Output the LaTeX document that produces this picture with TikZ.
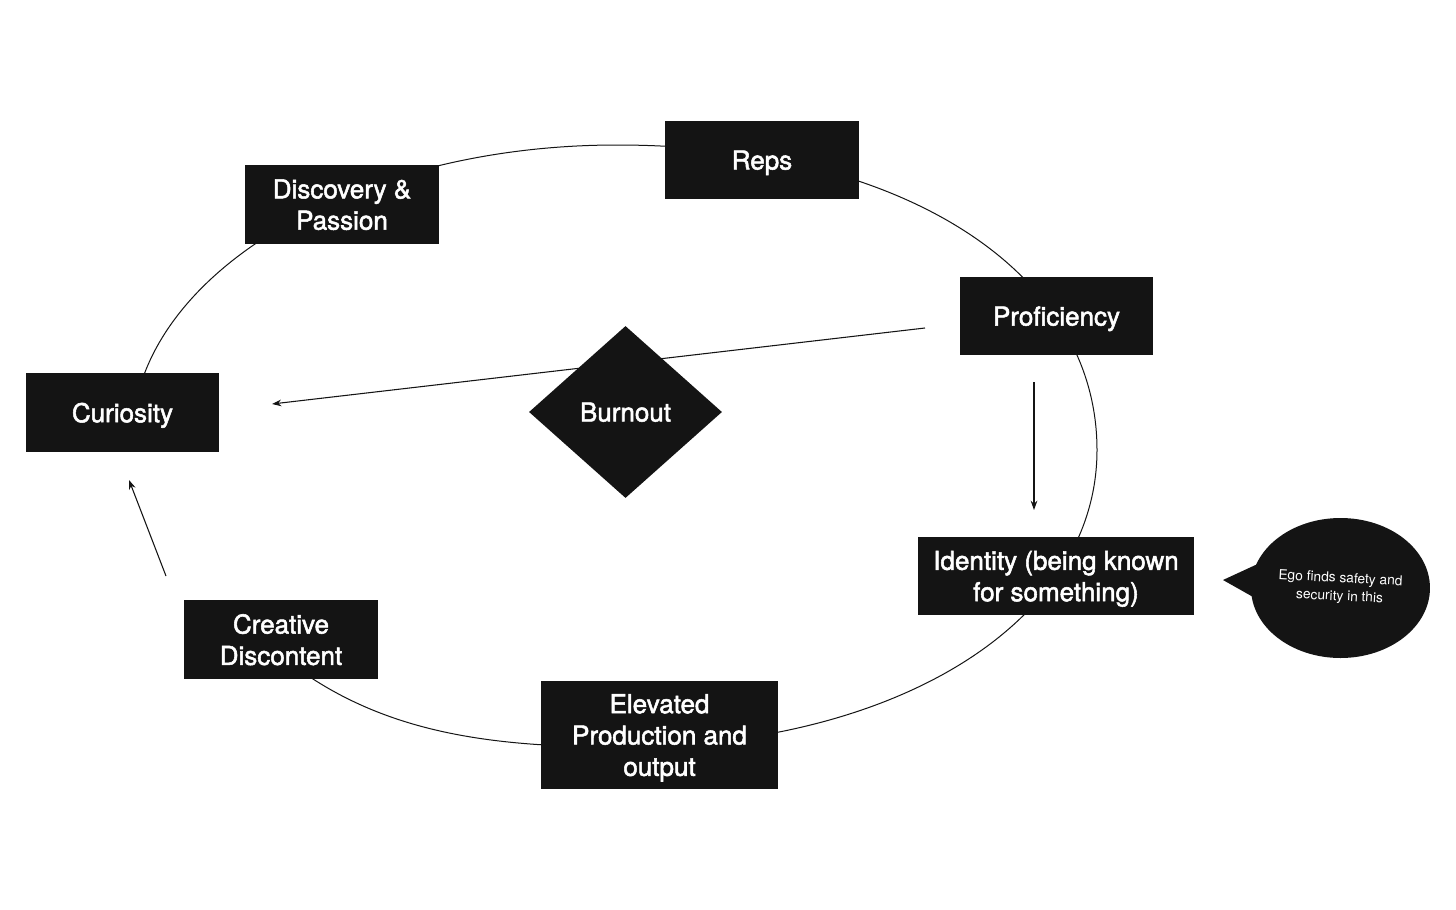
\documentclass[tikz,border=0pt]{standalone}
\usepackage{fontspec}
\setmainfont{TeX Gyre Heros}
\newfontfamily\medfont{TeX Gyre Heros}[FakeBold=2]
\usetikzlibrary{shapes.geometric,arrows.meta}
\definecolor{boxfill}{RGB}{20,20,20}
\tikzset{
  stepbox/.style={rectangle, fill=boxfill, text=white, align=center, inner sep=0pt,
    text depth=0pt, font=\medfont\fontsize{19.5}{23.5}\selectfont},
  arr/.style={-{Stealth[length=7pt,width=5pt]}, line width=0.8pt, draw=boxfill},
  loopline/.style={line width=0.75pt, draw=boxfill}
}
\begin{document}
\begin{tikzpicture}[x=0.75pt,y=-0.75pt]
\useasboundingbox (0,0) rectangle (1456,910);
\fill[white] (0,0) rectangle (1456,910);
% cycle curve
\coordinate (c0) at (132,440);
\coordinate (ctop) at (617,145);
\coordinate (cright) at (1097,450);
\coordinate (cbot) at (620,747);
\coordinate (c5) at (313,679);
\coordinate (c6) at (290,664);
\draw[loopline] (c0) .. controls (132,278) and (349,145) .. (ctop)
  .. controls (900,145) and (1097,270) .. (cright)
  .. controls (1097,622) and (897,747) .. (cbot)
  .. controls (500,747) and (400,735) .. (c5) -- (c6);
% arrows drawn before boxes
\coordinate (pa) at (925,328);
\coordinate (cb) at (272,404);
\coordinate (pd) at (1034,382);
\coordinate (id) at (1034,510);
\coordinate (cd) at (166,576);
\coordinate (cu) at (129,480);
\draw[arr] (pa) -- (cb);
\draw[arr] (pd) -- (id);
\draw[arr] (cd) -- (cu);
% boxes
\node[stepbox, minimum width=145.5pt, minimum height=59.25pt] (disc) at (342,204.5) {Discovery \&\\Passion};
\node[stepbox, minimum width=145.5pt, minimum height=58.5pt] (reps) at (762,160) {Reps};
\node[stepbox, minimum width=144.75pt, minimum height=58.5pt] (prof) at (1056.5,316) {Proficiency};
\node[stepbox, minimum width=144.75pt, minimum height=59.25pt] (cur) at (122.5,412.5) {Curiosity};
\node[stepbox, minimum width=207pt, minimum height=58.5pt] (ident) at (1056,576) {Identity (being known\\for something)};
\node[stepbox, minimum width=145.5pt, minimum height=59.25pt] (crea) at (281,639.5) {Creative\\Discontent};
\node[stepbox, minimum width=177.75pt, minimum height=81pt] (elev) at (659.5,735) {Elevated\\Production and\\output};
\node[stepbox, shape=diamond, minimum width=144.75pt, minimum height=129pt] (burn) at (625.5,412) {Burnout};
% speech bubble
\fill[boxfill] (1223,580) -- (1262,562) -- (1262,602) -- cycle;
\fill[boxfill] (1340.5,588) ellipse [x radius=67.1pt, y radius=52.5pt];
\node[text=white, align=center, rotate=-3, font=\fontsize{10.3}{13.5}\selectfont] (ego) at (1340,588) {Ego finds safety and\\security in this};
\end{tikzpicture}
\end{document}
